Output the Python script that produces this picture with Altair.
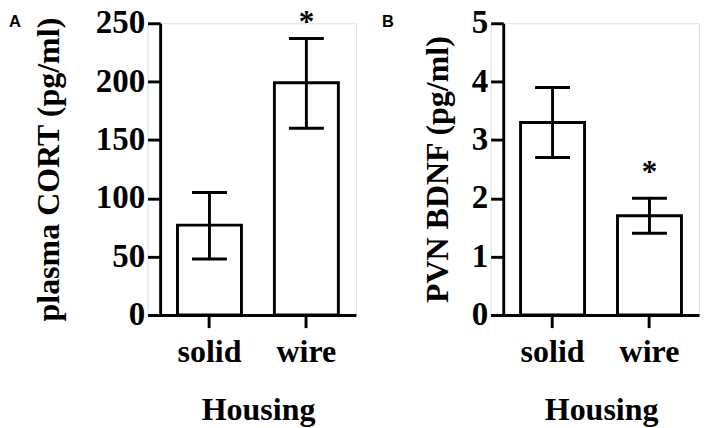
import altair as alt
import pandas as pd

housing = ["solid", "wire"]

cort_mean = [77, 199]
cort_lo = [48, 160]
cort_hi = [105, 237]
cort_sig = ["", "*"]
cort_ticks = [0, 50, 100, 150, 200, 250]

bdnf_mean = [3.3, 1.7]
bdnf_lo = [2.7, 1.4]
bdnf_hi = [3.9, 2.0]
bdnf_sig = ["", "*"]
bdnf_ticks = [0, 1, 2, 3, 4, 5]

SERIF = "Liberation Serif"
SANS = "Liberation Sans"


def panel(means, lo, hi, sig, ticks, ymax, ytitle, letter, letter_dx,
          star_dy, ytitle_pad):
    df = pd.DataFrame({"Housing": housing, "mean": means, "lo": lo, "hi": hi, "sig": sig})
    xscale = alt.Scale(paddingInner=0.34, paddingOuter=0.245, align=0.63)
    yscale = alt.Scale(domain=[0, ymax], nice=False, zero=True)
    xaxis = alt.Axis(
        title="Housing", labelAngle=0, domainWidth=3, domainColor="black",
        tickWidth=3, tickColor="black", tickSize=13, labelFont=SERIF,
        labelFontSize=33, labelFontWeight="bold", labelColor="black",
        labelPadding=9, titleFont=SERIF, titleFontSize=33,
        titleFontWeight="bold", titleColor="black", titlePadding=27,
        titleX=114, titleAlign="center",
    )
    yaxis = alt.Axis(
        title=ytitle, values=ticks, format="d", grid=False, offset=-13,
        domainWidth=3, domainColor="black", tickWidth=3, tickColor="black",
        tickSize=13, labelFont=SERIF, labelFontSize=34,
        labelFontWeight="bold", labelColor="black", labelPadding=3,
        titleFont=SERIF, titleFontSize=33, titleFontWeight="bold",
        titleColor="black", titlePadding=ytitle_pad,
    )
    x = alt.X("Housing:N", sort=housing, scale=xscale, axis=xaxis)
    xs = alt.X("Housing:N", sort=housing)
    base = alt.Chart(df)
    bars = base.mark_bar(fill="white", stroke="black", strokeWidth=3).encode(
        x=x, y=alt.Y("mean:Q", scale=yscale, axis=yaxis)
    )
    err = base.mark_rule(color="black", strokeWidth=3).encode(
        x=xs, y=alt.Y("lo:Q"), y2="hi:Q"
    )
    cap_lo = base.mark_tick(color="black", size=36, thickness=3, opacity=1).encode(
        x=xs, y=alt.Y("lo:Q")
    )
    cap_hi = base.mark_tick(color="black", size=36, thickness=3, opacity=1).encode(
        x=xs, y=alt.Y("hi:Q")
    )
    star = base.mark_text(
        font=SERIF, fontSize=32, fontWeight="bold", color="black",
        baseline="middle", dy=star_dy,
    ).encode(x=xs, y=alt.Y("hi:Q"), text="sig:N")
    return alt.layer(bars, err, cap_lo, cap_hi, star).properties(
        width=215, height=301,
        title=alt.TitleParams(
            text=letter, anchor="start", frame="group", orient="top",
            font=SANS, fontSize=17, fontWeight="bold", color="black",
            dx=letter_dx, dy=38, offset=0, baseline="alphabetic",
        ),
    )


pa = panel(cort_mean, cort_lo, cort_hi, cort_sig, cort_ticks, 250,
           "plasma CORT (pg/ml)", "A", -143, -17, 31)
pb = panel(bdnf_mean, bdnf_lo, bdnf_hi, bdnf_sig, bdnf_ticks, 5,
           "PVN BDNF (pg/ml)", "B", -112, -27, 18)

chart = (
    alt.hconcat(pa, pb, spacing=25)
    .properties(padding={"left": 0, "top": -9, "right": 0, "bottom": 0})
    .configure_view(stroke="transparent")
    .configure(background="white")
)

chart.save("out.html", embed_options={"renderer": "svg", "actions": False})
